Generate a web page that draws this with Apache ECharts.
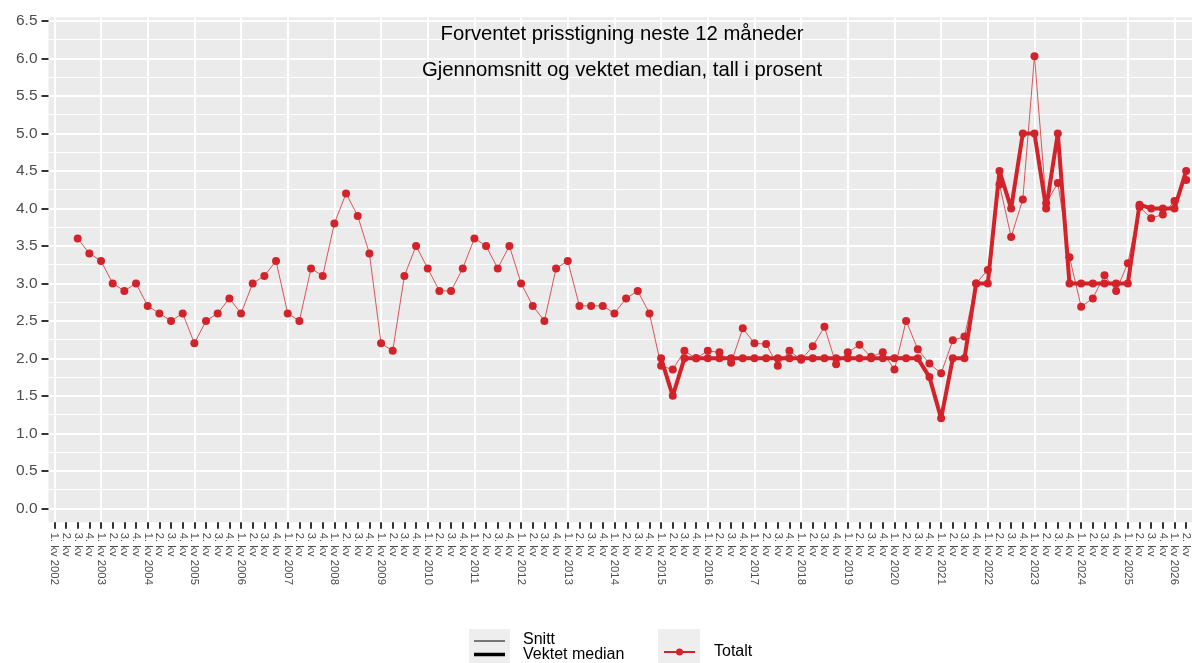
<!DOCTYPE html>
<html>
<head>
<meta charset="utf-8">
<script src="https://cdn.jsdelivr.net/npm/echarts@6/dist/echarts.min.js"></script>
<style>
  html, body { margin: 0; padding: 0; background: #ffffff; }
  #chart { width: 1192px; height: 663px; }
</style>
</head>
<body>
<div id="chart"></div>
<script>
// Quarterly categories, 1. kv 2002 – 2. kv 2026
const firstYear = 2002;
const lastYear = 2026;
const lastQuarter = 2;
const categories = [];
for (let y = firstYear; y <= lastYear; y++) {
  for (let q = 1; q <= 4; q++) {
    if (y === lastYear && q > lastQuarter) break;
    categories.push(q === 1 ? q + '. kv ' + y : q + '. kv');
  }
}

// Gjennomsnitt (snitt), prosent
const snitt = [
  null, null, 3.6, 3.4,      // 2002
  3.3, 3.0, 2.9, 3.0,        // 2003
  2.7, 2.6, 2.5, 2.6,        // 2004
  2.2, 2.5, 2.6, 2.8,        // 2005
  2.6, 3.0, 3.1, 3.3,        // 2006
  2.6, 2.5, 3.2, 3.1,        // 2007
  3.8, 4.2, 3.9, 3.4,        // 2008
  2.2, 2.1, 3.1, 3.5,        // 2009
  3.2, 2.9, 2.9, 3.2,        // 2010
  3.6, 3.5, 3.2, 3.5,        // 2011
  3.0, 2.7, 2.5, 3.2,        // 2012
  3.3, 2.7, 2.7, 2.7,        // 2013
  2.6, 2.8, 2.9, 2.6,        // 2014
  1.9, 1.85, 2.1, 2.0,       // 2015
  2.1, 2.08, 1.94, 2.4,      // 2016
  2.2, 2.19, 1.9, 2.1,       // 2017
  1.98, 2.16, 2.42, 1.92,    // 2018
  2.08, 2.18, 2.02, 2.08,    // 2019
  1.85, 2.5, 2.12, 1.93,     // 2020
  1.8, 2.24, 2.29, 3.0,      // 2021
  3.18, 4.32, 3.62, 4.12,    // 2022
  6.03, 4.07, 4.34, 3.35,    // 2023
  2.69, 2.8, 3.11, 2.9,      // 2024
  3.27, 4.02, 3.87, 3.92,    // 2025
  4.1, 4.38                  // 2026
];

// Vektet median, prosent (fra 2015)
const vektetMedian = [
  null, null, null, null,    // 2002
  null, null, null, null,    // 2003
  null, null, null, null,    // 2004
  null, null, null, null,    // 2005
  null, null, null, null,    // 2006
  null, null, null, null,    // 2007
  null, null, null, null,    // 2008
  null, null, null, null,    // 2009
  null, null, null, null,    // 2010
  null, null, null, null,    // 2011
  null, null, null, null,    // 2012
  null, null, null, null,    // 2013
  null, null, null, null,    // 2014
  2.0, 1.5, 2.0, 2.0,        // 2015
  2.0, 2.0, 2.0, 2.0,        // 2016
  2.0, 2.0, 2.0, 2.0,        // 2017
  2.0, 2.0, 2.0, 2.0,        // 2018
  2.0, 2.0, 2.0, 2.0,        // 2019
  2.0, 2.0, 2.0, 1.75,       // 2020
  1.2, 2.0, 2.0, 3.0,        // 2021
  3.0, 4.5, 4.0, 5.0,        // 2022
  5.0, 4.0, 5.0, 3.0,        // 2023
  3.0, 3.0, 3.0, 3.0,        // 2024
  3.0, 4.05, 4.0, 4.0,       // 2025
  4.0, 4.5                   // 2026
];

const titleLines = ['Forventet prisstigning neste 12 måneder',
                    'Gjennomsnitt og vektet median, tall i prosent'];

const RED = '#d2232a';
const FONT = '"Liberation Sans", Arial, Helvetica, sans-serif';
const PANEL_LEFT = 48.5;
const PANEL_RIGHT = -3;

const chart = echarts.init(document.getElementById('chart'), null, { renderer: 'canvas' });

const titleStyle = { fontSize: 20.3, fontWeight: 'normal', color: '#000', fontFamily: FONT };

chart.setOption({
  animation: false,
  backgroundColor: '#ffffff',
  title: [
    { text: titleLines[0], left: 622, textAlign: 'center', top: 24, padding: 0, textStyle: titleStyle },
    { text: titleLines[1], left: 622, textAlign: 'center', top: 60, padding: 0, textStyle: titleStyle }
  ],
  grid: [
    // panel: grey background, vertical year lines and quarter axis
    { left: PANEL_LEFT, right: PANEL_RIGHT, top: 17.3, bottom: 663 - 522.3,
      show: true, backgroundColor: '#ebebeb', borderWidth: 0 },
    // value area: 0 – 6.5
    { left: PANEL_LEFT, right: PANEL_RIGHT, top: 21, bottom: 663 - 508.3 }
  ],
  xAxis: [
    {
      gridIndex: 0, type: 'category', data: categories, boundaryGap: true,
      axisLine: { show: false },
      axisTick: { show: true, alignWithLabel: true, interval: 0, length: 6.5,
                  lineStyle: { color: '#333333', width: 2 } },
      axisLabel: { interval: 0, rotate: -90, margin: 10.5, fontSize: 11.3,
                   color: '#4d4d4d', fontFamily: FONT },
      splitLine: { show: true, alignWithLabel: true,
                   interval: function (i) { return i % 4 === 0; },
                   lineStyle: { color: '#ffffff', width: 2 } }
    },
    { gridIndex: 1, type: 'category', data: categories, boundaryGap: true, show: false }
  ],
  yAxis: [
    { gridIndex: 0, type: 'value', min: 0, max: 1, show: false, splitLine: { show: false } },
    {
      gridIndex: 1, type: 'value', min: 0, max: 6.5, interval: 0.5,
      axisLine: { show: false },
      axisTick: { show: true, length: 7, lineStyle: { color: '#333333', width: 2 } },
      axisLabel: { margin: 11, fontSize: 15.5, color: '#4d4d4d', fontFamily: FONT,
                   formatter: function (v) { return v.toFixed(1); } },
      splitLine: { show: true, lineStyle: { color: '#ffffff', width: 2 } },
      minorTick: { show: false, splitNumber: 2 },
      minorSplitLine: { show: true, lineStyle: { color: '#ffffff', width: 1 } }
    }
  ],
  series: [
    {
      name: 'Snitt', type: 'line', xAxisIndex: 1, yAxisIndex: 1, data: snitt,
      symbol: 'circle', symbolSize: 8, showSymbol: true, showAllSymbol: true,
      lineStyle: { color: 'rgba(210,35,42,0.75)', width: 1 },
      itemStyle: { color: RED },
      emphasis: { disabled: true }, z: 3
    },
    {
      name: 'Vektet median', type: 'line', xAxisIndex: 1, yAxisIndex: 1, data: vektetMedian,
      symbol: 'circle', symbolSize: 8, showSymbol: true, showAllSymbol: true,
      lineStyle: { color: RED, width: 4 },
      itemStyle: { color: RED },
      emphasis: { disabled: true }, z: 4
    }
  ],
  graphic: [
    // line-type key
    { type: 'rect', shape: { x: 469, y: 629, width: 41, height: 40 }, style: { fill: '#eeeeee' }, silent: true },
    { type: 'line', shape: { x1: 474, y1: 641, x2: 505, y2: 641 }, style: { stroke: '#000', lineWidth: 1 }, silent: true },
    { type: 'line', shape: { x1: 474, y1: 654.5, x2: 505, y2: 654.5 }, style: { stroke: '#000', lineWidth: 3.5 }, silent: true },
    { type: 'text', x: 523, y: 640, style: { text: 'Snitt', fill: '#000', font: '16px ' + FONT, textVerticalAlign: 'middle' }, silent: true },
    { type: 'text', x: 523, y: 655, style: { text: 'Vektet median', fill: '#000', font: '16px ' + FONT, textVerticalAlign: 'middle' }, silent: true },
    // colour key
    { type: 'rect', shape: { x: 658, y: 629, width: 42, height: 40 }, style: { fill: '#eeeeee' }, silent: true },
    { type: 'line', shape: { x1: 664, y1: 652, x2: 695, y2: 652 }, style: { stroke: RED, lineWidth: 2 }, silent: true },
    { type: 'circle', shape: { cx: 679.5, cy: 652, r: 3.5 }, style: { fill: RED }, silent: true },
    { type: 'text', x: 714, y: 652, style: { text: 'Totalt', fill: '#000', font: '16px ' + FONT, textVerticalAlign: 'middle' }, silent: true }
  ]
});
</script>
</body>
</html>
